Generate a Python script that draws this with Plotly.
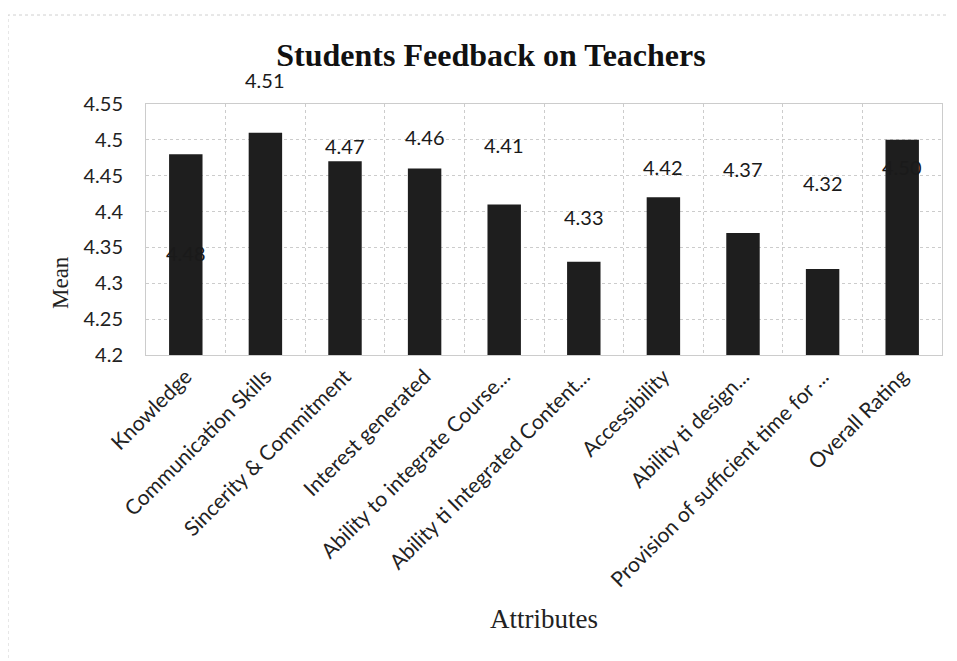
import plotly.graph_objects as go

categories = ["Knowledge", "Communication Skills", "Sincerity & Commitment",
              "Interest generated", "Ability to integrate Course...",
              "Ability ti Integrated Content...", "Accessibility",
              "Ability ti design...", "Provision of sufficient time for ...",
              "Overall Rating"]
means = [4.48, 4.51, 4.47, 4.46, 4.41, 4.33, 4.42, 4.37, 4.32, 4.50]
value_labels = ["4.48", "4.51", "4.47", "4.46", "4.41", "4.33", "4.42", "4.37", "4.32", "4.50"]
# vertical placement of the data labels (in axis units), as seen in the chart
label_y = [4.342, 4.583, 4.491, 4.504, 4.493, 4.392, 4.462, 4.459, 4.44, 4.462]

Y0, Y1 = 4.2, 4.55
fig = go.Figure()
fig.add_trace(go.Bar(x=categories, y=means, marker=dict(color="#1e1e1e", line=dict(width=0)),
                     width=0.42, showlegend=False))

for c, t, ly in zip(categories, value_labels, label_y):
    fig.add_annotation(x=c, y=(ly - Y0) / (Y1 - Y0), text=t, showarrow=False, xref="x", yref="paper",
                       xanchor="center", yanchor="middle",
                       font=dict(family="Lato, Open Sans, sans-serif", size=20, color="#1a1a1a"))

grid = "#cccccc"
ML, MR, MT, MB = 138, 23, 96, 314
PW, PH = 957 - ML - MR, 661 - MT - MB
fig.update_layout(
    width=957, height=661,
    margin=dict(l=ML, r=MR, t=MT, b=MB, autoexpand=False),
    paper_bgcolor="white", plot_bgcolor="white",
    title=dict(text="<b>Students Feedback on Teachers</b>", x=483 / 957, xanchor="center",
               y=1 - 47 / 661, yanchor="middle",
               font=dict(family="Liberation Serif, Times New Roman, serif", size=32, color="#111")),
    xaxis=dict(tickson="boundaries", showgrid=True, gridcolor=grid, griddash="dot", gridwidth=1,
               tickangle=-45, ticks="", showline=True, linecolor=grid, mirror=True, automargin=False,
               tickfont=dict(family="Lato, Open Sans, sans-serif", size=21, color="#222"),
               title=dict(text="Attributes", standoff=18,
                          font=dict(family="Liberation Serif, Times New Roman, serif", size=27, color="#222"))),
    yaxis=dict(range=[Y0, Y1], dtick=0.05, tick0=4.2, showgrid=True, gridcolor=grid,
               griddash="dot", gridwidth=1, zeroline=False, showline=True, linecolor=grid, mirror=True,
               tickfont=dict(family="Lato, Open Sans, sans-serif", size=20, color="#222"),
               ticks="", ticklen=0, automargin=False, ticklabelstandoff=18),
    bargap=0.58,
)
fig.add_annotation(text="Mean", textangle=-90, xref="paper", yref="paper",
                   x=(52 - ML) / PW, y=1 - (275 - MT) / PH, xanchor="center", yanchor="middle",
                   showarrow=False,
                   font=dict(family="Liberation Serif, Times New Roman, serif", size=23, color="#222"))
fig.add_shape(type="rect", xref="paper", yref="paper", x0=-ML / PW, x1=1 + 8 / PW,
              y0=-(MB + 20) / PH, y1=1 + 89 / PH,
              line=dict(color="#d0d0d0", width=1, dash="dot"))

fig.write_html("out.html")
